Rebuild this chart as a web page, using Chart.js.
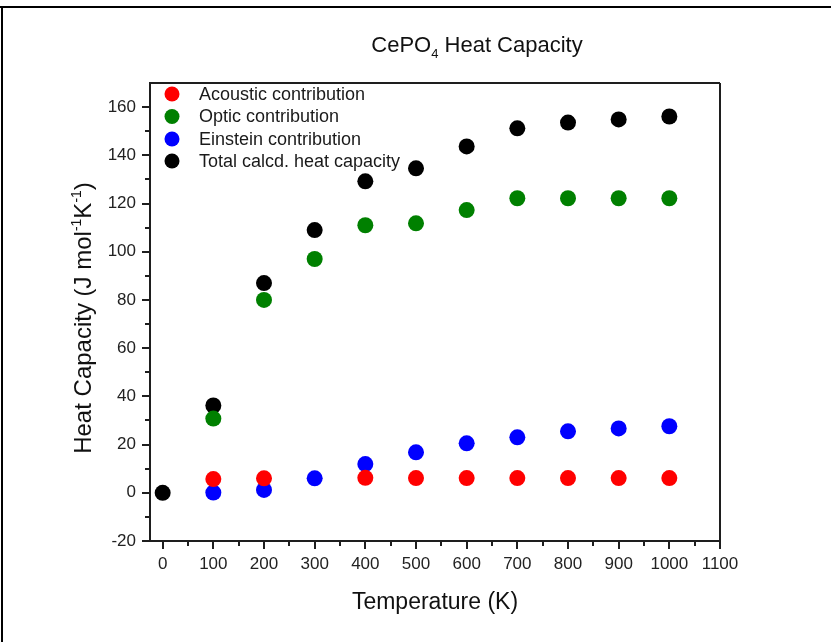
<!DOCTYPE html>
<html>
<head>
<meta charset="utf-8">
<script src="https://cdn.jsdelivr.net/npm/chart.js@4/dist/chart.umd.min.js"></script>
<style>
  html, body { margin: 0; padding: 0; background: #ffffff; }
  #wrap { width: 831px; height: 642px; }
</style>
</head>
<body>
<div id="wrap"><canvas id="c" width="831" height="642"></canvas></div>
<script>
// ---- data ----
const temperatures = [100, 200, 300, 400, 500, 600, 700, 800, 900, 1000];
const acousticTemps = [100, 200, 400, 500, 600, 700, 800, 900, 1000];
const acoustic = [5.7, 6.0, 6.2, 6.1, 6.1, 6.1, 6.1, 6.1, 6.1];
const optic = [30.8, 80.0, 97.0, 111.0, 111.8, 117.3, 122.2, 122.2, 122.2, 122.2];
const einstein = [0.1, 1.2, 6.0, 11.9, 16.8, 20.5, 23.0, 25.5, 26.7, 27.6];
const totalTemps = [0, 100, 200, 300, 400, 500, 600, 700, 800, 900, 1000];
const total = [0, 36.2, 87.0, 109.0, 129.2, 134.6, 143.7, 151.2, 153.6, 154.9, 156.1];
const seriesNames = ['Acoustic contribution', 'Optic contribution', 'Einstein contribution', 'Total calcd. heat capacity'];
const seriesColors = ['#ff0000', '#008000', '#0000ff', '#000000'];
const xTicks = [0, 100, 200, 300, 400, 500, 600, 700, 800, 900, 1000, 1100];
const yTicks = [-20, 0, 20, 40, 60, 80, 100, 120, 140, 160];
const xMinorTicks = [50, 150, 250, 350, 450, 550, 650, 750, 850, 950, 1050];
const yMinorTicks = [-10, 10, 30, 50, 70, 90, 110, 130, 150];

const FONT = '"Liberation Sans", Arial, sans-serif';
const AX = '#1e1e1e';

function pts(xs, ys) { return xs.map((x, i) => ({ x: x, y: ys[i] })); }

const extras = {
  id: 'extras',
  afterDraw(chart) {
    const ctx = chart.ctx;
    const a = chart.chartArea;
    const xs = chart.scales.x, ys = chart.scales.y;
    ctx.save();
    // outer frame (top + left)
    ctx.fillStyle = '#000';
    ctx.fillRect(0, 6, 831, 2);
    ctx.fillRect(1, 6, 2, 636);
    // top & right of box
    ctx.strokeStyle = AX;
    ctx.lineWidth = 2;
    ctx.beginPath();
    ctx.moveTo(a.left, a.top); ctx.lineTo(a.right, a.top);
    ctx.moveTo(a.right, a.top); ctx.lineTo(a.right, a.bottom);
    ctx.stroke();
    // minor ticks
    ctx.beginPath();
    xMinorTicks.forEach(v => {
      const p = Math.round(xs.getPixelForValue(v));
      ctx.moveTo(p, a.bottom); ctx.lineTo(p, a.bottom + 5);
    });
    yMinorTicks.forEach(v => {
      const p = Math.round(ys.getPixelForValue(v));
      ctx.moveTo(a.left, p); ctx.lineTo(a.left - 5, p);
    });
    ctx.stroke();
    // legend
    const ly = [94, 116.5, 139, 161];
    ctx.font = '18px ' + FONT;
    ctx.textBaseline = 'middle';
    ctx.textAlign = 'left';
    seriesNames.forEach((n, i) => {
      ctx.fillStyle = seriesColors[i];
      ctx.beginPath();
      ctx.arc(172, ly[i], 7.5, 0, Math.PI * 2);
      ctx.fill();
      ctx.fillStyle = '#1a1a1a';
      ctx.fillText(n, 199, ly[i] + 1);
    });
    // title with subscript
    ctx.fillStyle = '#111';
    ctx.textBaseline = 'alphabetic';
    const tA = 'CePO', tSub = '4', tB = ' Heat Capacity';
    const fMain = '22px ' + FONT, fSub = '13px ' + FONT;
    ctx.font = fMain; const wA = ctx.measureText(tA).width, wB = ctx.measureText(tB).width;
    ctx.font = fSub; const wS = ctx.measureText(tSub).width;
    let tx = 477 - (wA + wS + wB) / 2;
    const tyb = 52;
    ctx.font = fMain; ctx.fillText(tA, tx, tyb); tx += wA;
    ctx.font = fSub; ctx.fillText(tSub, tx, tyb + 6); tx += wS;
    ctx.font = fMain; ctx.fillText(tB, tx, tyb);
    // x axis title
    ctx.font = '23px ' + FONT;
    ctx.textAlign = 'center';
    ctx.fillText('Temperature (K)', 435, 609);
    // y axis title with superscripts
    ctx.translate(91, 318);
    ctx.rotate(-Math.PI / 2);
    const parts = [['Heat Capacity (J mol', 0], ['-1', 1], ['K', 0], ['-1', 1], [')', 0]];
    const fN = '24px ' + FONT, fS = '14px ' + FONT;
    let tot = 0;
    parts.forEach(p => { ctx.font = p[1] ? fS : fN; tot += ctx.measureText(p[0]).width; });
    let px = -tot / 2;
    ctx.textAlign = 'left';
    parts.forEach(p => {
      ctx.font = p[1] ? fS : fN;
      ctx.fillText(p[0], px, p[1] ? -10 : 0);
      px += ctx.measureText(p[0]).width;
    });
    ctx.restore();
  }
};

new Chart(document.getElementById('c'), {
  type: 'scatter',
  data: {
    datasets: [
      { label: seriesNames[0], data: pts(acousticTemps, acoustic), backgroundColor: seriesColors[0], borderColor: seriesColors[0] },
      { label: seriesNames[1], data: pts(temperatures, optic), backgroundColor: seriesColors[1], borderColor: seriesColors[1] },
      { label: seriesNames[2], data: pts(temperatures, einstein), backgroundColor: seriesColors[2], borderColor: seriesColors[2] },
      { label: seriesNames[3], data: pts(totalTemps, total), backgroundColor: seriesColors[3], borderColor: seriesColors[3] }
    ]
  },
  options: {
    responsive: false,
    animation: false,
    devicePixelRatio: 1,
    layout: { padding: { left: 0, right: 111, top: 83, bottom: 0 } },
    elements: { point: { radius: 8, borderWidth: 0, hoverRadius: 8 } },
    plugins: { legend: { display: false }, title: { display: false }, tooltip: { enabled: false } },
    scales: {
      x: {
        type: 'linear', min: -25, max: 1100,
        afterBuildTicks: s => { s.ticks = xTicks.map(v => ({ value: v })); },
        afterFit: s => { s.height = 101; },
        grid: { display: true, drawOnChartArea: false, drawTicks: true, tickLength: 8, color: AX, lineWidth: 2 },
        border: { display: true, color: AX, width: 2 },
        ticks: { color: '#222', font: { family: FONT, size: 17 }, padding: 5, maxRotation: 0, autoSkip: false, callback: v => String(v) }
      },
      y: {
        type: 'linear', min: -20, max: 170,
        afterBuildTicks: s => { s.ticks = yTicks.map(v => ({ value: v })); },
        afterFit: s => { s.width = 150; },
        grid: { display: true, drawOnChartArea: false, drawTicks: true, tickLength: 8, color: AX, lineWidth: 2 },
        border: { display: true, color: AX, width: 2 },
        ticks: { color: '#222', font: { family: FONT, size: 17 }, padding: 6, autoSkip: false, callback: v => String(v) }
      }
    }
  },
  plugins: [extras]
});
</script>
</body>
</html>
